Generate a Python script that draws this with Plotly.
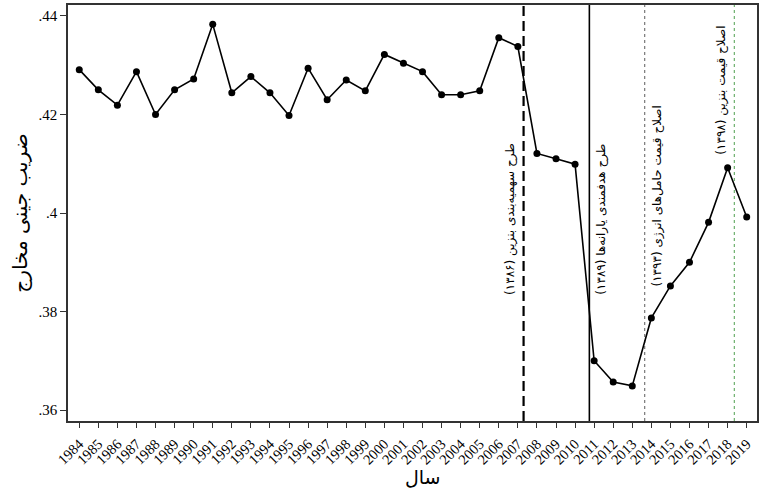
import plotly.graph_objects as go

years = list(range(1984, 2020))
gini = [0.4291, 0.4250, 0.4219, 0.4287, 0.4200, 0.4250, 0.4272, 0.4383,
        0.4244, 0.4277, 0.4244, 0.4198, 0.4294, 0.4230, 0.4270, 0.4248,
        0.4322, 0.4304, 0.4287, 0.4240, 0.4240, 0.4248, 0.4356, 0.4338,
        0.4121, 0.4110, 0.4099, 0.3700, 0.3657, 0.3649, 0.3787, 0.3852,
        0.3900, 0.3981, 0.4092, 0.3992]

event_x = [2007.3, 2010.75, 2013.65, 2018.35]
event_labels = [
    "طرح سهمیه‌بندی بنزین (۱۳۸۶)",
    "طرح هدفمندی یارانه‌ها (۱۳۸۹)",
    "اصلاح قیمت حامل‌های انرژی (۱۳۹۳)",
    "اصلاح قیمت بنزین (۱۳۹۸)",
]
event_styles = [
    dict(color="black", width=2.2, dash="10px,5px"),
    dict(color="black", width=1.6, dash="solid"),
    dict(color="#777777", width=1.2, dash="dot"),
    dict(color="#5fa85f", width=1.1, dash="dot"),
]
label_side = ["left", "right", "right", "left"]
label_ypaper = [0.486, 0.486, 0.540, 0.796]

y_ticks = [0.36, 0.38, 0.40, 0.42, 0.44]
y_ticktext = [".36", ".38", ".4", ".42", ".44"]

x_title = "سال"
y_title = "ضریب جینی مخارج"

fa_font = "DejaVu Sans"
serif = "Liberation Serif"

fig = go.Figure()
fig.add_trace(go.Scatter(
    x=years, y=gini, mode="lines+markers",
    line=dict(color="black", width=1.6),
    marker=dict(color="black", size=7),
    showlegend=False,
))

for xv, st in zip(event_x, event_styles):
    fig.add_shape(type="line", xref="x", yref="paper", x0=xv, x1=xv, y0=0, y1=1,
                  line=st, layer="below")

for xv, txt, side, yp in zip(event_x, event_labels, label_side, label_ypaper):
    fig.add_annotation(
        x=xv, y=yp, xref="x", yref="paper",
        text="\u200F" + txt + "\u200F",
        textangle=-90, showarrow=False,
        xanchor="right" if side == "left" else "left",
        yanchor="middle",
        xshift=-3 if side == "left" else 3,
        font=dict(family=fa_font, size=12, color="black"),
    )

fig.add_annotation(
    x=0.515, y=-0.135, xref="paper", yref="paper",
    text=x_title, showarrow=False, xanchor="center", yanchor="middle",
    font=dict(family=fa_font, size=19, color="black"),
)

fig.update_layout(
    width=779, height=491,
    margin=dict(l=68, r=22, t=5, b=70),
    paper_bgcolor="white", plot_bgcolor="white",
    font=dict(family=serif, color="black"),
    xaxis=dict(
        range=[1983.41, 2019.54],
        tickmode="array", tickvals=years, ticktext=[str(y) for y in years],
        tickangle=-45, tickfont=dict(family=serif, size=14.5),
        ticks="outside", ticklen=5, tickcolor="#333", ticklabelstandoff=2,
        showline=True, linecolor="#333", linewidth=1.5, mirror=True,
        showgrid=False, zeroline=False, automargin=False,
    ),
    yaxis=dict(
        range=[0.35777, 0.44223],
        tickmode="array", tickvals=y_ticks, ticktext=y_ticktext,
        tickfont=dict(family=serif, size=15),
        ticks="outside", ticklen=6, tickcolor="#333",
        showline=True, linecolor="#333", linewidth=1.5, mirror=True,
        showgrid=False, zeroline=False, automargin=False,
        title=dict(text=y_title, font=dict(family=fa_font, size=20), standoff=6),
    ),
)

fig.write_html("out.html", config={"displayModeBar": False},
               post_script="document.body.style.margin='0';")
